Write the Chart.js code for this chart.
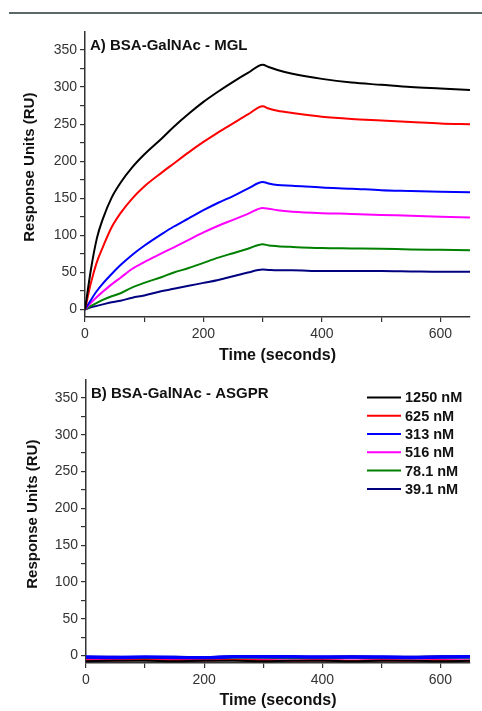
<!DOCTYPE html>
<html>
<head>
<meta charset="utf-8">
<script src="https://cdn.jsdelivr.net/npm/chart.js@4.4.1/dist/chart.umd.min.js"></script>
<style>
  body { margin: 0; background: #fff; width: 482px; height: 711px; position: relative; overflow: hidden; }
  #rule { position: absolute; left: 9px; right: 0; top: 12px; height: 2px; background: #5b6868; }
  #c1 { position: absolute; left: 0; top: 20px; }
  #c2 { position: absolute; left: 0; top: 368px; }
</style>
</head>
<body>
<div id="rule"></div>
<canvas id="c1" width="482" height="350"></canvas>
<canvas id="c2" width="482" height="343"></canvas>
<script>
// sensorgram data
const times = [0, 10, 20, 30, 45, 60, 80, 100, 130, 150, 175, 200, 225, 250, 275, 300,
               310, 325, 350, 400, 450, 500, 550, 600, 650];
const labels = ['1250 nM', '625 nM', '313 nM', '516 nM', '78.1 nM', '39.1 nM'];
const colors = ['#000000', '#ff0000', '#0000ff', '#ff00ff', '#008000', '#000080'];

// A) MGL
const mgl1250 = [0, 54, 96, 122, 151, 171, 192, 209, 231, 246.5, 264, 280, 294, 307, 319, 330,
                 327, 323, 318, 311, 306, 303, 300, 298, 296];
const mgl625 = [0, 36, 64, 84, 111, 130, 150, 166, 185, 197, 212, 226, 239, 251, 263, 274,
                271, 268, 265, 260, 257, 255, 253, 251, 250];
const mgl313 = [0, 13, 25, 35, 48, 60, 74, 86, 102, 112, 123, 134, 144, 153, 163, 172,
                170, 168, 167, 164.5, 163, 161, 160, 159, 158];
const mgl516 = [0, 9, 17, 24, 34, 43, 55, 64, 76, 84, 94, 104, 113, 121, 129, 137,
                136, 134, 132, 130, 129, 127.5, 126.5, 125, 124];
const mgl78 = [0, 5, 9, 13, 18, 22, 30, 36, 44, 50, 56, 63, 70, 76, 82, 88,
               86.5, 85.5, 84.5, 83, 82.5, 82, 81, 80.5, 80];
const mgl39 = [0, 3, 5, 7, 10, 12, 16, 19, 25, 28, 32, 36, 40, 45, 50, 54,
               53.5, 53, 53, 52, 52, 52, 51.5, 51, 51];

// B) ASGPR (flat, around zero)
const timesB = [0, 50, 100, 150, 200, 250, 300, 350, 400, 450, 500, 550, 600, 650];
const asg1250 = [-7.5, -7, -7, -7.5, -7, -7, -7.5, -7, -7, -7.5, -7, -7, -7.5, -7];
const asg625 = [-6.5, -6.5, -6, -6.5, -6.5, -6, -6.5, -7, -6.5, -7, -6.5, -7, -6.5, -7];
const asg313 = [-2, -2.5, -2, -2.5, -3, -1.5, -1.5, -1.5, -2, -2, -2, -2.5, -2, -1.5];
const asg516 = [-6, -5.5, -6, -6, -5.5, -6, -6, -6.5, -6, -6.5, -6, -6.5, -6, -6.5];
const asg78 = [-3.5, -3.5, -4, -3.5, -3.5, -3, -3, -3.5, -3.5, -3, -3.5, -3.5, -3, -3];
const asg39 = [-1.5, -1.5, -2, -1.5, -2, -1, -1, -1.5, -1.5, -1, -1.5, -1.5, -1, -1];

const yTicks = [0, 50, 100, 150, 200, 250, 300, 350];
const xTicks = [0, 200, 400, 600];

function series(xs, ys) {
  return xs.map((x, i) => ({ x: x, y: ys[i] }));
}

function makeDatasets(xs, sets, widths) {
  return sets.map((ys, i) => ({
    label: labels[i],
    data: series(xs, ys),
    borderColor: colors[i],
    backgroundColor: colors[i],
    borderWidth: widths ? widths[i] : 2,
    pointRadius: 0,
    cubicInterpolationMode: 'monotone',
    fill: false
  }));
}

// panel label, rotated y title, optional legend
const panelText = {
  id: 'panelText',
  afterDraw(chart, args, opts) {
    const ctx = chart.ctx;
    const a = chart.chartArea;
    ctx.save();
    ctx.fillStyle = '#111';
    ctx.font = 'bold 15px "Liberation Sans", Arial, sans-serif';
    ctx.textBaseline = 'middle';
    ctx.textAlign = 'left';
    ctx.fillText(opts.label, a.left + 5, a.top + 14);

    ctx.save();
    ctx.translate(opts.yTitleX, (a.top + a.bottom) / 2 - 7);
    ctx.rotate(-Math.PI / 2);
    ctx.textAlign = 'center';
    ctx.font = 'bold 15px "Liberation Sans", Arial, sans-serif';
    ctx.fillText('Response Units (RU)', 0, 0);
    ctx.restore();

    if (opts.legend) {
      ctx.font = 'bold 14.5px "Liberation Sans", Arial, sans-serif';
      chart.data.datasets.forEach((ds, i) => {
        const y = a.top + 18 + i * 18.3;
        ctx.strokeStyle = ds.borderColor;
        ctx.lineWidth = 2;
        ctx.beginPath();
        ctx.moveTo(367, y);
        ctx.lineTo(401, y);
        ctx.stroke();
        ctx.fillStyle = '#111';
        ctx.fillText(ds.label, 405, y + 1);
      });
    }
    ctx.restore();
  }
};

function axisOpts(yw, xh) {
  const gridC = { display: true, drawOnChartArea: false, drawTicks: true, tickLength: 5, color: '#333', lineWidth: 1.2 };
  const border = { display: true, color: '#333', width: 1.5 };
  const tickFont = { family: '"Liberation Sans", Arial, sans-serif', size: 14 };
  return {
    x: {
      type: 'linear', min: 0, max: 650,
      grid: gridC, border: border,
      ticks: {
        stepSize: 100, includeBounds: false, color: '#333', font: tickFont, padding: 4, maxRotation: 0,
        autoSkip: false,
        callback: v => xTicks.includes(v) ? v : ''
      },
      title: {
        display: true, text: 'Time (seconds)', color: '#111',
        font: { family: '"Liberation Sans", Arial, sans-serif', size: 16, weight: 'bold' },
        padding: { top: 0, bottom: 0 }
      },
      afterFit: s => { s.height = xh; }
    },
    y: {
      type: 'linear', min: -10, max: 375,
      grid: gridC, border: border,
      ticks: {
        stepSize: 25, includeBounds: false, color: '#333', font: tickFont, padding: 3,
        autoSkip: false,
        callback: v => yTicks.includes(v) ? v : ''
      },
      afterBuildTicks: s => { s.ticks = s.ticks.filter(t => t.value >= 0 && t.value <= 350); },
      afterFit: s => { s.width = yw; }
    }
  };
}

new Chart(document.getElementById('c1'), {
  type: 'line',
  data: { datasets: makeDatasets(times, [mgl1250, mgl625, mgl313, mgl516, mgl78, mgl39]) },
  options: {
    responsive: false,
    animation: false,
    layout: { padding: { top: 11, left: 0, right: 12, bottom: 5 } },
    scales: axisOpts(85, 48),
    plugins: {
      legend: { display: false },
      tooltip: { enabled: false },
      panelText: { label: 'A) BSA-GalNAc - MGL', yTitleX: 30, legend: false }
    }
  },
  plugins: [panelText]
});

new Chart(document.getElementById('c2'), {
  type: 'line',
  data: { datasets: makeDatasets(timesB, [asg1250, asg625, asg313, asg516, asg78, asg39], [2, 2, 3.5, 2, 2, 2]) },
  options: {
    responsive: false,
    animation: false,
    layout: { padding: { top: 10, left: 0, right: 12, bottom: 1 } },
    scales: axisOpts(86, 47),
    plugins: {
      legend: { display: false },
      tooltip: { enabled: false },
      panelText: { label: 'B) BSA-GalNAc - ASGPR', yTitleX: 33, legend: true }
    }
  },
  plugins: [panelText]
});
</script>
</body>
</html>
